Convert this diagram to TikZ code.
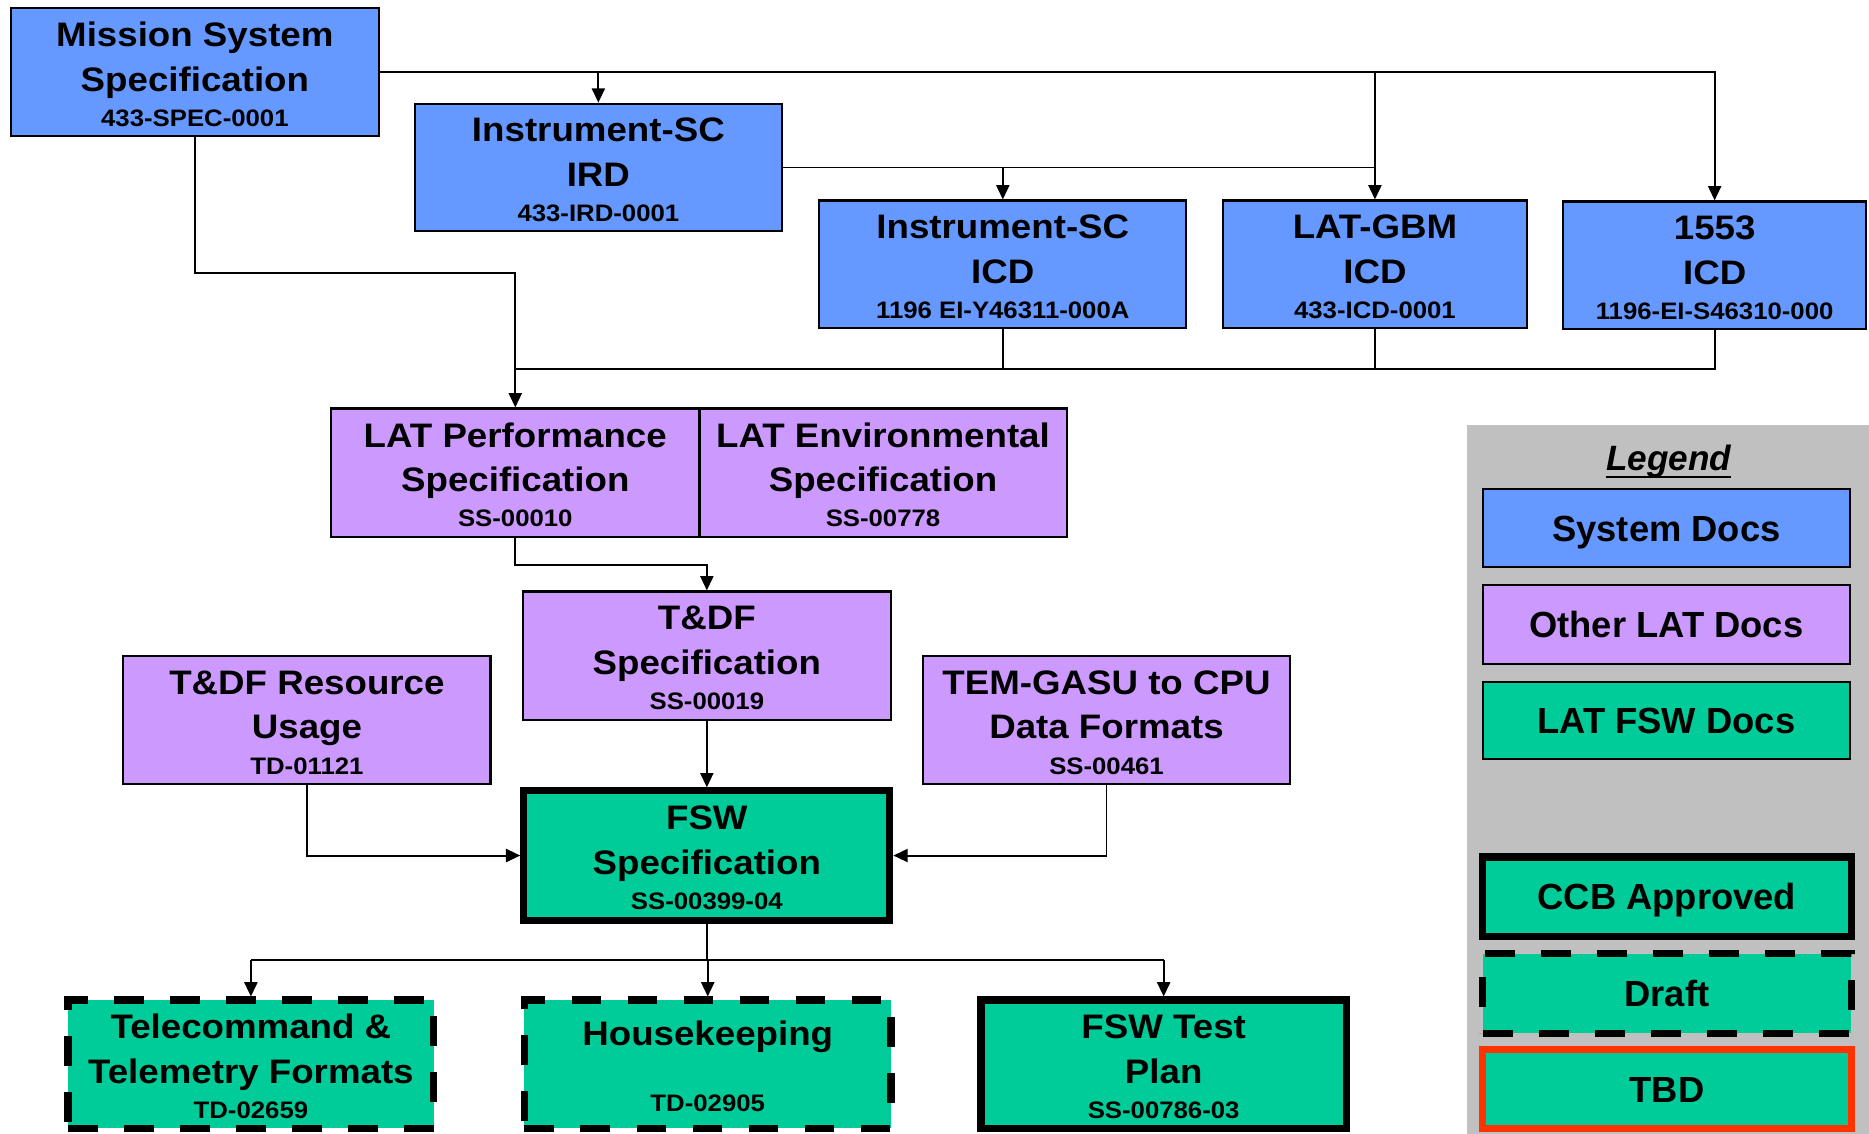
\documentclass[tikz,border=0pt]{standalone}
\usepackage{fontspec}
\setmainfont{Liberation Sans}
\newfontfamily\bigff[FakeStretch=1.08]{Liberation Sans}
\newfontfamily\smallff[FakeStretch=1.08]{Liberation Sans}
\newfontfamily\legff{Liberation Sans}
\usetikzlibrary{arrows.meta}
\definecolor{sysblue}{HTML}{6699FF}
\definecolor{latpurple}{HTML}{CC99FF}
\definecolor{fswgreen}{HTML}{00CC99}
\definecolor{leggray}{HTML}{C0C0C0}
\definecolor{tbdred}{HTML}{FF3300}
\newcommand\bigf{\bigff\bfseries\fontsize{28.5pt}{37.5pt}\selectfont}
\newcommand\smf{\smallff\bfseries\fontsize{20pt}{24pt}\selectfont}
\newcommand\legf{\legff\bfseries\fontsize{30.5pt}{36pt}\selectfont}
\newcommand\dtx[3]{\vbox{\baselineskip=37.5pt\lineskiplimit=-100pt\lineskip=0pt%
\halign{\hfil##\hfil\cr
\bigf\rule{0pt}{24pt}#1\cr
\bigf #2\cr
\noalign{\vskip-8pt}%
\smf #3\cr}}}
\newcommand\dtxh[2]{\vbox{\baselineskip=35pt\lineskiplimit=-100pt\lineskip=0pt%
\halign{\hfil##\hfil\cr
\bigf\rule{0pt}{24pt}#1\cr
\noalign{\vskip20pt}%
\smf #2\cr}}}
\tikzset{
  box/.style={draw=black, line width=1.8pt, inner sep=0pt},
  sysb/.style={box, fill=sysblue},
  latb/.style={box, fill=latpurple},
  fswb/.style={box, fill=fswgreen},
  ccbb/.style={fswb, line width=6pt},
  draftb/.style={fswb, line width=6pt, dash pattern=on 25pt off 22pt},
  conn/.style={line width=1.6pt},
  arr/.style={conn, -{Triangle[length=12pt,width=11pt]}},
  lgbox/.style={draw=black, line width=1.8pt, inner sep=0pt, minimum width=308pt,
    minimum height=66pt, font=\legf, text height=21.8pt, text depth=0pt},
}
\begin{document}
\begin{tikzpicture}[x=1pt,y=-1pt]
\fill[white] (0,0) rectangle (1568,951);
\useasboundingbox (0,0) rectangle (1568,951);
% legend background
\fill[leggray] (1230.5,356.5) rectangle (1568,951);

% system docs
\node[sysb, minimum width=309pt, minimum height=107pt] (ms) at (163.5,60.5)
  {\dtx{Mission System}{Specification}{433-SPEC-0001}};
\node[sysb, minimum width=308pt, minimum height=107pt] (ird) at (502,140.5)
  {\dtx{Instrument-SC}{IRD}{433-IRD-0001}};
\node[sysb, minimum width=308pt, minimum height=107pt] (isc) at (841.3,221.7)
  {\dtx{Instrument-SC}{ICD}{1196 EI-Y46311-000A}};
\node[sysb, minimum width=255pt, minimum height=107pt] (gbm) at (1153.5,221.7)
  {\dtx{LAT-GBM}{ICD}{433-ICD-0001}};
\node[sysb, minimum width=254pt, minimum height=107pt] (ibus) at (1438.5,222.5)
  {\dtx{1553}{ICD}{1196-EI-S46310-000}};

% other LAT docs
\node[latb, minimum width=309pt, minimum height=108pt] (lp) at (432.3,396.7)
  {\dtx{LAT Performance}{Specification}{SS-00010}};
\node[latb, minimum width=308pt, minimum height=108pt] (le) at (740.8,396.7)
  {\dtx{LAT Environmental}{Specification}{SS-00778}};
\node[latb, minimum width=308.5pt, minimum height=107.6pt] (tdf) at (593,550)
  {\dtx{T\&DF}{Specification}{SS-00019}};
\node[latb, minimum width=308pt, minimum height=108pt] (res) at (257.5,604)
  {\dtx{T\&DF Resource}{Usage}{TD-01121}};
\node[latb, minimum width=307.5pt, minimum height=108pt] (tem) at (928.3,604)
  {\dtx{TEM-GASU to CPU}{Data Formats}{SS-00461}};

% FSW docs
\node[ccbb, minimum width=307pt, minimum height=108.5pt] (fsw) at (593,717.75)
  {\dtx{FSW}{Specification}{SS-00399-04}};
\node[draftb, minimum width=307pt, minimum height=107.5pt] (tc) at (210.5,892.75)
  {\dtx{Telecommand \&}{Telemetry Formats}{TD-02659}};
\node[draftb, minimum width=307.5pt, minimum height=107.5pt] (hk) at (593.75,892.75)
  {\dtxh{Housekeeping}{TD-02905}};
\node[ccbb, minimum width=306.5pt, minimum height=107.5pt] (tp) at (976.25,892.75)
  {\dtx{FSW Test}{Plan}{SS-00786-03}};

% connectors
\draw[arr] (ms.east) -| (ibus.north);
\draw[arr] (ms.east -| ird.north) -- (ird.north);
\draw[arr] (ms.east -| gbm.north) -- (gbm.north);
\draw[conn] (ird.east) -- (ird.east -| gbm.north);
\draw[arr] (ird.east -| isc.north) -- (isc.north);
\draw[arr] (ms.south) -- ++(0,114) -| (lp.north);
\coordinate (bus) at (1438.5,309.5);
\draw[conn] (ibus.south) |- (lp.north |- bus);
\draw[conn] (isc.south) -- (isc.south |- bus);
\draw[conn] (gbm.south) -- (gbm.south |- bus);
\draw[arr] (lp.south) -- ++(0,22.5) -| (tdf.north);
\draw[arr] (tdf.south) -- (fsw.north);
\draw[arr] (res.south) |- (fsw.west);
\draw[arr] (tem.south) |- (fsw.east);
\coordinate (cbus) at (593,805.5);
\draw[conn] (fsw.south) -- (fsw.south |- cbus);
\draw[conn] (tc.north |- cbus) -- (tp.north |- cbus);
\draw[arr] (tc.north |- cbus) -- (tc.north);
\draw[arr] (hk.north |- cbus) -- (hk.north);
\draw[arr] (tp.north |- cbus) -- (tp.north);

% legend
\node[anchor=south, inner sep=0pt] (lgt) at (1400,401.5)
  {\vbox{\hbox{\legff\bfseries\itshape\fontsize{29.5pt}{34pt}\selectfont Legend}\nointerlineskip\kern-1.5pt\hrule height 2.2pt}};
\node[lgbox, fill=sysblue] (lsys) at (1398,443) {System Docs};
\node[lgbox, fill=latpurple] (llat) at (1398,524) {Other LAT Docs};
\node[lgbox, fill=fswgreen, minimum height=65pt] (lfsw) at (1398,604.5) {LAT FSW Docs};
\node[lgbox, fill=fswgreen, line width=6pt, minimum width=309pt, minimum height=67pt] (lccb) at (1398.5,752.5) {CCB Approved};
\node[lgbox, fill=fswgreen, line width=6pt, dash pattern=on 25pt off 22pt, minimum width=309pt, minimum height=67pt] (ldr) at (1398.5,833.5) {Draft};
\node[lgbox, fill=fswgreen, draw=tbdred, line width=6pt, minimum width=309pt, minimum height=66.5pt] (ltbd) at (1398.5,913.75) {TBD};
\end{tikzpicture}
\end{document}
